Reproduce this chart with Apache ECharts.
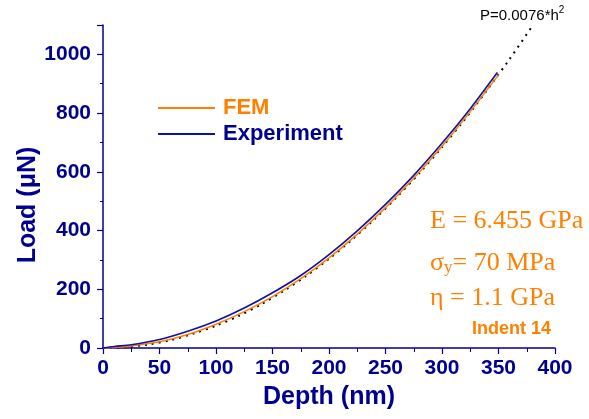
<!DOCTYPE html>
<html>
<head>
<meta charset="utf-8">
<script src="https://cdn.jsdelivr.net/npm/echarts@6/dist/echarts.min.js"></script>
<style>
html,body{margin:0;padding:0;background:#fff;}
#chart{width:589px;height:419px;}
</style>
</head>
<body>
<div id="chart"></div>
<script>
// Experiment curve (depth nm, load µN)
const depthExp = [0, 10, 25, 50, 75, 100, 125, 150, 175, 200, 225, 250, 275, 300, 325, 349];
const loadExp  = [0, 5, 11, 29, 57, 92, 136, 188, 247, 318, 399, 489, 588, 697, 815, 938];
// FEM curve
const depthFem = [0, 10, 25, 50, 75, 100, 125, 150, 175, 200, 225, 250, 275, 300, 325, 350];
const loadFem  = [0, 2, 7, 21, 46, 81, 124, 175, 236, 307, 388, 478, 578, 687, 805, 930];
// Dotted fit curve P = 0.0076*h^2
const depthFit = [0, 20, 40, 60, 80, 100, 120, 140, 160, 180, 200, 220, 240, 260, 280, 300, 320, 340, 360, 380];
const loadFit  = [0, 3, 12, 27, 49, 76, 109, 149, 195, 246, 304, 368, 438, 514, 596, 684, 778, 879, 985, 1097];

const xTicks = [0, 50, 100, 150, 200, 250, 300, 350, 400];
const yTicks = [0, 200, 400, 600, 800, 1000];

const NAVY = '#000090';
const ORANGE = '#FF8000';
const BLUE = '#1010A8';

const zip = (a, b) => a.map((v, i) => [v, b[i]]);

const chart = echarts.init(document.getElementById('chart'));
chart.setOption({
  animation: false,
  backgroundColor: '#fff',
  grid: { left: 103, right: 34, top: 25, bottom: 71 },
  xAxis: {
    type: 'value', min: 0, max: 400, interval: 50,
    name: 'Depth (nm)', nameLocation: 'middle', nameGap: 37,
    nameTextStyle: { fontFamily: 'Liberation Sans, Arial', fontWeight: 'bold', fontSize: 25, color: NAVY },
    axisLine: { show: true, onZero: false, lineStyle: { color: NAVY, width: 1.5 } },
    axisTick: { show: true, inside: false, length: 6, lineStyle: { color: NAVY, width: 1.2 } },
    minorTick: { show: true, splitNumber: 2, length: 4, lineStyle: { color: NAVY, width: 1 } },
    splitLine: { show: false },
    axisLabel: { margin: 10, fontFamily: 'Liberation Sans, Arial', fontWeight: 'bold', fontSize: 21, color: NAVY,
      formatter: v => xTicks.includes(v) ? String(v) : '' }
  },
  yAxis: {
    type: 'value', min: 0, max: 1100, interval: 200,
    name: 'Load (μN)', nameLocation: 'middle', nameGap: 62, nameRotate: 90, nameMoveOverlap: false,
    nameTextStyle: { fontFamily: 'Liberation Sans, Arial', fontWeight: 'bold', fontSize: 25, color: NAVY, padding: [0, 37, 0, 0] },
    axisLine: { show: true, onZero: false, lineStyle: { color: NAVY, width: 1.5 } },
    axisTick: { show: true, inside: false, length: 6, lineStyle: { color: NAVY, width: 1.2 } },
    minorTick: { show: true, splitNumber: 2, length: 3, lineStyle: { color: NAVY, width: 1 } },
    splitLine: { show: false },
    axisLabel: { margin: 12, showMaxLabel: false, fontFamily: 'Liberation Sans, Arial', fontWeight: 'bold', fontSize: 21, color: NAVY,
      formatter: v => yTicks.includes(v) ? String(v) : '' }
  },
  legend: {
    orient: 'vertical', left: 153, top: 92, itemWidth: 57, itemHeight: 2, itemGap: 4,
    icon: 'rect',
    textStyle: { fontFamily: 'Liberation Sans, Arial', fontWeight: 'bold', fontSize: 22, padding: [0, 0, 0, 3] },
    data: [
      { name: 'FEM', textStyle: { color: ORANGE } },
      { name: 'Experiment', textStyle: { color: NAVY } }
    ]
  },
  series: [
    {
      name: 'Fit', type: 'line', data: zip(depthFit, loadFit), showSymbol: false, smooth: 0.3,
      lineStyle: { color: '#000', width: 2, type: [2, 5] }, z: 1, silent: true
    },
    {
      name: 'FEM', type: 'line', data: zip(depthFem, loadFem), showSymbol: false, smooth: 0.3,
      itemStyle: { color: ORANGE }, lineStyle: { color: ORANGE, width: 1.5 }, z: 2
    },
    {
      name: 'Experiment', type: 'line', data: zip(depthExp, loadExp), showSymbol: false, smooth: 0.3,
      itemStyle: { color: BLUE }, lineStyle: { color: BLUE, width: 1.6 }, z: 3
    }
  ],
  graphic: [
    { type: 'text', left: 480, top: 5, style: {
      text: '{a|P=0.0076*h}{s|2}', rich: {
        a: { fontFamily: 'Liberation Sans, Arial', fontSize: 15, fill: '#000', verticalAlign: 'bottom', lineHeight: 18 },
        s: { fontFamily: 'Liberation Sans, Arial', fontSize: 10, fill: '#000', verticalAlign: 'top', lineHeight: 18 }
      } } },
    { type: 'text', left: 430, top: 208, style: { text: 'E = 6.455 GPa', fill: ORANGE,
      font: '26px "Liberation Serif", "Times New Roman", serif' } },
    { type: 'text', left: 430, top: 250, style: {
      text: '{a|σ}{b|y}{a|= 70 MPa}', rich: {
        a: { fontFamily: 'Liberation Serif, Times New Roman', fontSize: 26, fill: ORANGE, verticalAlign: 'bottom', lineHeight: 30 },
        b: { fontFamily: 'Liberation Serif, Times New Roman', fontSize: 17, fill: ORANGE, verticalAlign: 'bottom', lineHeight: 22 }
      } } },
    { type: 'text', left: 430, top: 285, style: { text: 'η = 1.1 GPa', fill: ORANGE,
      font: '26px "Liberation Serif", "Times New Roman", serif' } },
    { type: 'text', left: 472, top: 320, style: { text: 'Indent 14', fill: ORANGE,
      font: 'bold 18px "Liberation Sans", Arial, sans-serif' } }
  ]
});
</script>
</body>
</html>
